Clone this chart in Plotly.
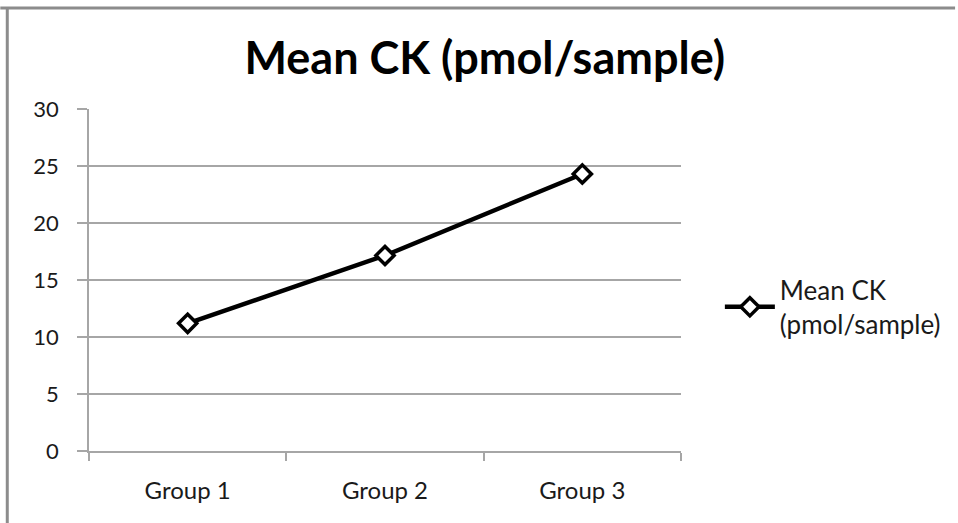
import plotly.graph_objects as go

# Chart data
groups = ["Group 1", "Group 2", "Group 3"]
mean_ck = [11.2, 17.15, 24.3]
series_name = "Mean CK<br>(pmol/sample)"
title_text = "Mean CK (pmol/sample)"
y_ticks = [0, 5, 10, 15, 20, 25, 30]

W, H = 958, 523
M_L, M_R, M_T, M_B = 89, 275, 109, 72
PW, PH = W - M_L - M_R, H - M_T - M_B

FONT = "Lato, Open Sans, sans-serif"
GRID = "#a6a6a6"
FRAME = "#8c8c8c"


def px_x(px):
    return (px - M_L) / PW


def px_y(py):
    return (H - M_B - py) / PH


fig = go.Figure()
fig.add_trace(go.Scatter(
    x=groups,
    y=mean_ck,
    name=series_name,
    mode="lines+markers",
    line=dict(color="black", width=4.5),
    marker=dict(symbol="diamond", size=14, color="white",
                line=dict(color="black", width=3.5)),
    showlegend=True,
))

# outer chart frame (top and left edges)
fig.add_shape(type="line", xref="paper", yref="paper",
              x0=px_x(0), x1=px_x(W), y0=px_y(8), y1=px_y(8),
              line=dict(color=FRAME, width=3))
fig.add_shape(type="line", xref="paper", yref="paper",
              x0=px_x(7), x1=px_x(7), y0=px_y(8), y1=px_y(H),
              line=dict(color=FRAME, width=3))

fig.update_layout(
    width=W, height=H,
    margin=dict(l=M_L, r=M_R, t=M_T, b=M_B, pad=0),
    paper_bgcolor="white",
    plot_bgcolor="white",
    font=dict(family=FONT, size=22, color="#1a1a1a"),
    title=dict(text="<b>" + title_text + "</b>", xref="container",
               x=0.506, xanchor="center", yref="container",
               y=1 - 58 / H, yanchor="middle",
               font=dict(family=FONT, size=45, color="black")),
    legend=dict(x=px_x(722), xanchor="left", y=px_y(307), yanchor="middle",
                font=dict(family=FONT, size=26, color="#1a1a1a"),
                bgcolor="rgba(0,0,0,0)", itemwidth=50),
    xaxis=dict(
        type="category",
        range=[-0.5, len(groups) - 0.5],
        tickson="boundaries",
        ticks="outside", ticklen=8, tickcolor=GRID, tickwidth=1.5,
        showline=True, linecolor=GRID, linewidth=1.5,
        showgrid=False, zeroline=False,
        tickfont=dict(size=24),
        ticklabelstandoff=17,
        fixedrange=True,
    ),
    yaxis=dict(
        range=[0, 30],
        tickvals=y_ticks,
        ticks="outside", ticklen=10, tickcolor=GRID, tickwidth=1.5,
        showline=True, linecolor=GRID, linewidth=1.5,
        showgrid=True, gridcolor=GRID, gridwidth=1.5,
        zeroline=False,
        ticklabelstandoff=14,
        fixedrange=True,
    ),
)

fig.write_html("out.html")
